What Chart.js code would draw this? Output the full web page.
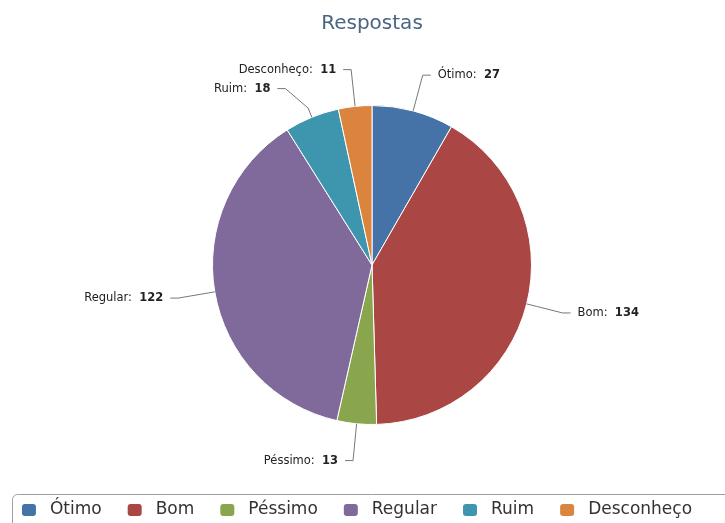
<!DOCTYPE html>
<html>
<head>
<meta charset="utf-8">
<title>Respostas</title>
<script src="https://cdn.jsdelivr.net/npm/chart.js@4.4.1/dist/chart.umd.min.js"></script>
<style>
  html, body { margin: 0; padding: 0; background: #fff; }
  #chart { display: block; }
</style>
</head>
<body>
<canvas id="chart" width="725" height="523"></canvas>
<script>
// ===== Data
const categories = ['Ótimo', 'Bom', 'Péssimo', 'Regular', 'Ruim', 'Desconheço'];
const values = [27, 134, 13, 122, 18, 11];
const colors = ['#4572A7', '#AA4643', '#89A54E', '#80699B', '#3D96AE', '#DB843D'];

const FONT = '"DejaVu Sans", "Lucida Grande", Verdana, sans-serif';

// ===== Data labels with connectors (Highcharts-like)
const pieLabels = {
  id: 'pieLabels',
  afterDatasetsDraw(chart) {
    const ctx = chart.ctx;
    const meta = chart.getDatasetMeta(0);
    const dist = 37;      // label distance from the edge
    const minGap = 19;    // vertical spacing between labels
    const items = meta.data.map((arc, i) => {
      const p = arc.getProps(['x', 'y', 'startAngle', 'endAngle', 'outerRadius'], true);
      const a = (p.startAngle + p.endAngle) / 2;
      const R = p.outerRadius + dist;
      return {
        i, a, cx: p.x, cy: p.y, r: p.outerRadius, R,
        left: Math.cos(a) < 0,
        y: p.y + Math.sin(a) * R
      };
    });

    // push overlapping labels apart on each side
    [true, false].forEach(side => {
      const list = items.filter(it => it.left === side).sort((a, b) => a.y - b.y);
      for (let k = 1; k < list.length; k++) {
        if (list[k].y < list[k - 1].y + minGap) list[k].y = list[k - 1].y + minGap;
      }
    });

    ctx.save();
    items.forEach(it => {
      const dy = it.y - it.cy;
      const dx = Math.abs(dy) < it.R ? Math.sqrt(it.R * it.R - dy * dy) : 0;
      const x = it.cx + (it.left ? -dx : dx);
      const dir = it.left ? -1 : 1;
      const cos = Math.cos(it.a), sin = Math.sin(it.a);
      const brk = it.r + 10;

      // connector
      ctx.strokeStyle = '#777';
      ctx.lineWidth = 1;
      ctx.beginPath();
      ctx.moveTo(x + dir * 8, it.y);
      ctx.lineTo(x, it.y);
      ctx.lineTo(it.cx + cos * brk, it.cy + sin * brk);
      ctx.lineTo(it.cx + cos * it.r, it.cy + sin * it.r);
      ctx.stroke();

      // text: "Name:  " normal + value bold
      const name = categories[it.i] + ':  ';
      const val = String(values[it.i]);
      ctx.textBaseline = 'middle';
      ctx.fillStyle = '#222';
      ctx.font = '11.5px ' + FONT;
      const wName = ctx.measureText(name).width;
      ctx.font = 'bold 11.5px ' + FONT;
      const wVal = ctx.measureText(val).width;
      const tx = it.left ? x - 15 - (wName + wVal) : x + 15;
      ctx.textAlign = 'left';
      ctx.font = '11.5px ' + FONT;
      ctx.fillText(name, tx, it.y);
      ctx.font = 'bold 11.5px ' + FONT;
      ctx.fillText(val, tx + wName, it.y);
    });
    ctx.restore();
  }
};

// ===== Bordered legend at the bottom
const boxLegend = {
  id: 'boxLegend',
  afterDraw(chart) {
    const ctx = chart.ctx;
    const ds = chart.data.datasets[0];
    ctx.save();

    // frame (runs past the right/bottom edge like the reference)
    const fx = 12.5, fy = 494.5, fw = 760, fh = 60, rr = 5;
    ctx.strokeStyle = '#a0a0a0';
    ctx.lineWidth = 1;
    ctx.beginPath();
    ctx.roundRect(fx, fy, fw, fh, rr);
    ctx.stroke();

    ctx.font = '17px ' + FONT;
    ctx.textBaseline = 'middle';
    const sym = 14, symGap = 14, itemGap = 26;
    const widths = chart.data.labels.map(l => ctx.measureText(l).width);
    const total = widths.reduce((s, w) => s + sym + symGap + w, 0) + itemGap * (widths.length - 1);
    let x = 357 - total / 2;
    const yc = 510;
    chart.data.labels.forEach((label, i) => {
      ctx.fillStyle = ds.backgroundColor[i];
      ctx.beginPath();
      ctx.roundRect(x, yc - 6, sym, 12, 3);
      ctx.fill();
      ctx.fillStyle = '#333';
      ctx.fillText(label, x + sym + symGap, yc);
      x += sym + symGap + widths[i] + itemGap;
    });
    ctx.restore();
  }
};

new Chart(document.getElementById('chart'), {
  type: 'pie',
  data: {
    labels: categories,
    datasets: [{
      data: values,
      backgroundColor: colors,
      borderColor: '#ffffff',
      borderWidth: 1
    }]
  },
  options: {
    responsive: false,
    animation: false,
    layout: { padding: { left: 19, right: 0, top: 0, bottom: 98 } },
    plugins: {
      legend: { display: false },
      tooltip: { enabled: false },
      title: {
        display: true,
        text: 'Respostas',
        color: '#4a6580',
        font: { family: FONT, size: 20, weight: 'normal' },
        padding: { top: 12, bottom: 69 }
      }
    }
  },
  plugins: [pieLabels, boxLegend]
});
</script>
</body>
</html>
